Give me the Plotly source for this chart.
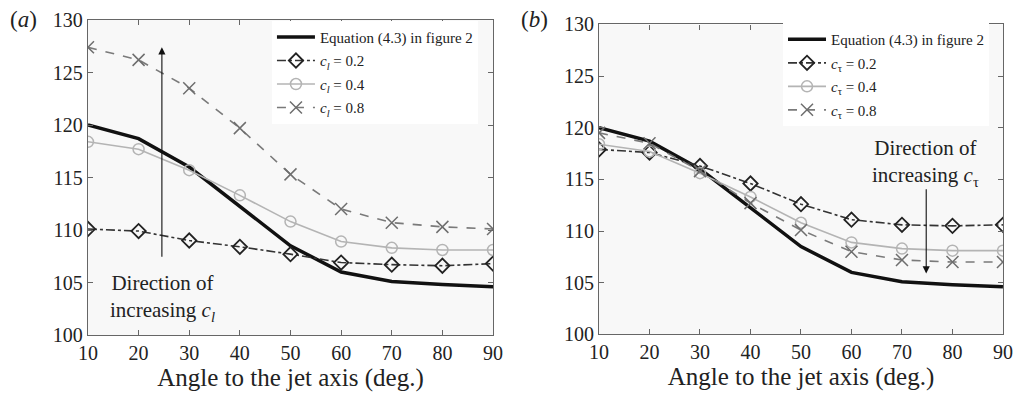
import plotly.graph_objects as go

# angle to the jet axis (deg.)
angles = [10, 20, 30, 40, 50, 60, 70, 80, 90]

# equation (4.3), same curve in both panels
eq43 = [120.0, 118.7, 116.0, 112.3, 108.5, 106.0, 105.1, 104.8, 104.6]

# panel (a): varying c_l
cl_02 = [110.1, 109.9, 109.0, 108.4, 107.7, 106.9, 106.7, 106.6, 106.8]
cl_04 = [118.4, 117.7, 115.7, 113.3, 110.8, 108.9, 108.3, 108.1, 108.1]
cl_08 = [127.4, 126.2, 123.5, 119.7, 115.3, 112.0, 110.7, 110.3, 110.1]

# panel (b): varying c_tau
ct_02 = [117.9, 117.6, 116.3, 114.6, 112.6, 111.1, 110.6, 110.5, 110.6]
ct_04 = [118.4, 117.7, 115.6, 113.3, 110.8, 108.9, 108.3, 108.1, 108.1]
ct_08 = [119.5, 118.5, 115.8, 112.7, 110.1, 108.0, 107.2, 107.0, 107.0]

SERIF = "Liberation Serif, Times New Roman, serif"

fig = go.Figure()


def add_panel(xa, ya, legend, sym, s02, s04, s08):
    fig.add_trace(go.Scatter(x=angles, y=eq43, mode="lines", name="Equation (4.3) in figure 2",
                             line=dict(color="#111111", width=3.5), xaxis=xa, yaxis=ya,
                             legend=legend, legendgroup=legend + "eq"))
    fig.add_trace(go.Scatter(x=angles, y=s02, mode="lines+markers", name=sym + " = 0.2",
                             line=dict(color="#333333", width=1.6, dash="dashdot"),
                             marker=dict(symbol="diamond-open", size=11, color="#222222",
                                         line=dict(width=1.8)),
                             xaxis=xa, yaxis=ya, legend=legend, legendgroup=legend + "02"))
    fig.add_trace(go.Scatter(x=angles, y=s04, mode="lines+markers", name=sym + " = 0.4",
                             line=dict(color="#b4b4b4", width=1.6),
                             marker=dict(symbol="circle-open", size=11, color="#b4b4b4",
                                         line=dict(width=1.5)),
                             xaxis=xa, yaxis=ya, legend=legend, legendgroup=legend + "04"))
    fig.add_trace(go.Scatter(x=angles, y=s08, mode="lines+markers", name=sym + " = 0.8",
                             line=dict(color="#7a7a7a", width=1.6, dash="dash"),
                             marker=dict(symbol="x-thin", size=12, color="#6e6e6e",
                                         line=dict(width=1.5, color="#6e6e6e")),
                             xaxis=xa, yaxis=ya, legend=legend, legendgroup=legend + "08"))


add_panel("x", "y", "legend", "<i>c</i><sub><i>l</i></sub>", cl_02, cl_04, cl_08)
add_panel("x2", "y2", "legend2", "<i>c</i><sub>τ</sub>", ct_02, ct_04, ct_08)

xax = dict(range=[10, 90], tick0=10, dtick=10, ticks="inside", ticklen=5, tickcolor="#666666",
           showline=True, linecolor="#666666", linewidth=1.2, mirror="ticks", showgrid=False,
           zeroline=False, automargin=False, tickfont=dict(family=SERIF, size=20, color="#222222"),
           title=dict(text="Angle to the jet axis (deg.)", font=dict(family=SERIF, size=25, color="#222222"),
                      standoff=5))
yax = dict(range=[100, 130], tick0=100, dtick=5, ticks="inside", ticklen=5, tickcolor="#666666",
           showline=True, linecolor="#666666", linewidth=1.2, mirror="ticks", showgrid=False,
           zeroline=False, automargin=False, tickfont=dict(family=SERIF, size=20, color="#222222"))

legend_style = dict(bgcolor="white", borderwidth=0, font=dict(family=SERIF, size=15, color="#222222"),
                    xanchor="left", yanchor="top", tracegroupgap=1, traceorder="grouped", itemwidth=38)

# page body has an 8px margin, so the figure is sized to the visible area
fig.update_layout(
    width=1016, height=392,
    margin=dict(l=0, r=0, t=0, b=64),
    paper_bgcolor="white",
    plot_bgcolor="#f8f8f8",
    xaxis=dict(xax, domain=[0.0787, 0.4774], anchor="y"),
    yaxis=dict(yax, domain=[0.003, 0.9634], anchor="x"),
    xaxis2=dict(xax, domain=[0.5817, 0.9793], anchor="y2"),
    yaxis2=dict(yax, domain=[0.005, 0.95], anchor="x2"),
    legend=dict(legend_style, x=0.2598, y=0.961),
    legend2=dict(legend_style, x=0.7628, y=0.954),
    annotations=[
        dict(text="(<i>a</i>)", xref="paper", yref="paper", x=0.0, y=1.01, xanchor="left",
             yanchor="top", showarrow=False, font=dict(family=SERIF, size=23, color="#222222")),
        dict(text="(<i>b</i>)", xref="paper", yref="paper", x=0.503, y=1.01, xanchor="left",
             yanchor="top", showarrow=False, font=dict(family=SERIF, size=23, color="#222222")),
        dict(x=24.6, y=127.4, ax=24.6, ay=107.3, xref="x", yref="y", axref="x", ayref="y",
             showarrow=True, arrowhead=2, arrowsize=1.3, arrowwidth=1.1, arrowcolor="#111111", text=""),
        dict(x=24.8, y=103.5, xref="x", yref="y", showarrow=False,
             text="Direction of<br>increasing <i>c</i><sub><i>l</i></sub>",
             font=dict(family=SERIF, size=21, color="#222222")),
        dict(x=74.8, y=105.9, ax=74.8, ay=114.2, xref="x2", yref="y2", axref="x2", ayref="y2",
             showarrow=True, arrowhead=2, arrowsize=1.3, arrowwidth=1.1, arrowcolor="#111111", text=""),
        dict(x=74.7, y=116.6, xref="x2", yref="y2", showarrow=False,
             text="Direction of<br>increasing <i>c</i><sub>τ</sub>",
             font=dict(family=SERIF, size=21, color="#222222")),
    ],
)

fig.write_html("out.html")
